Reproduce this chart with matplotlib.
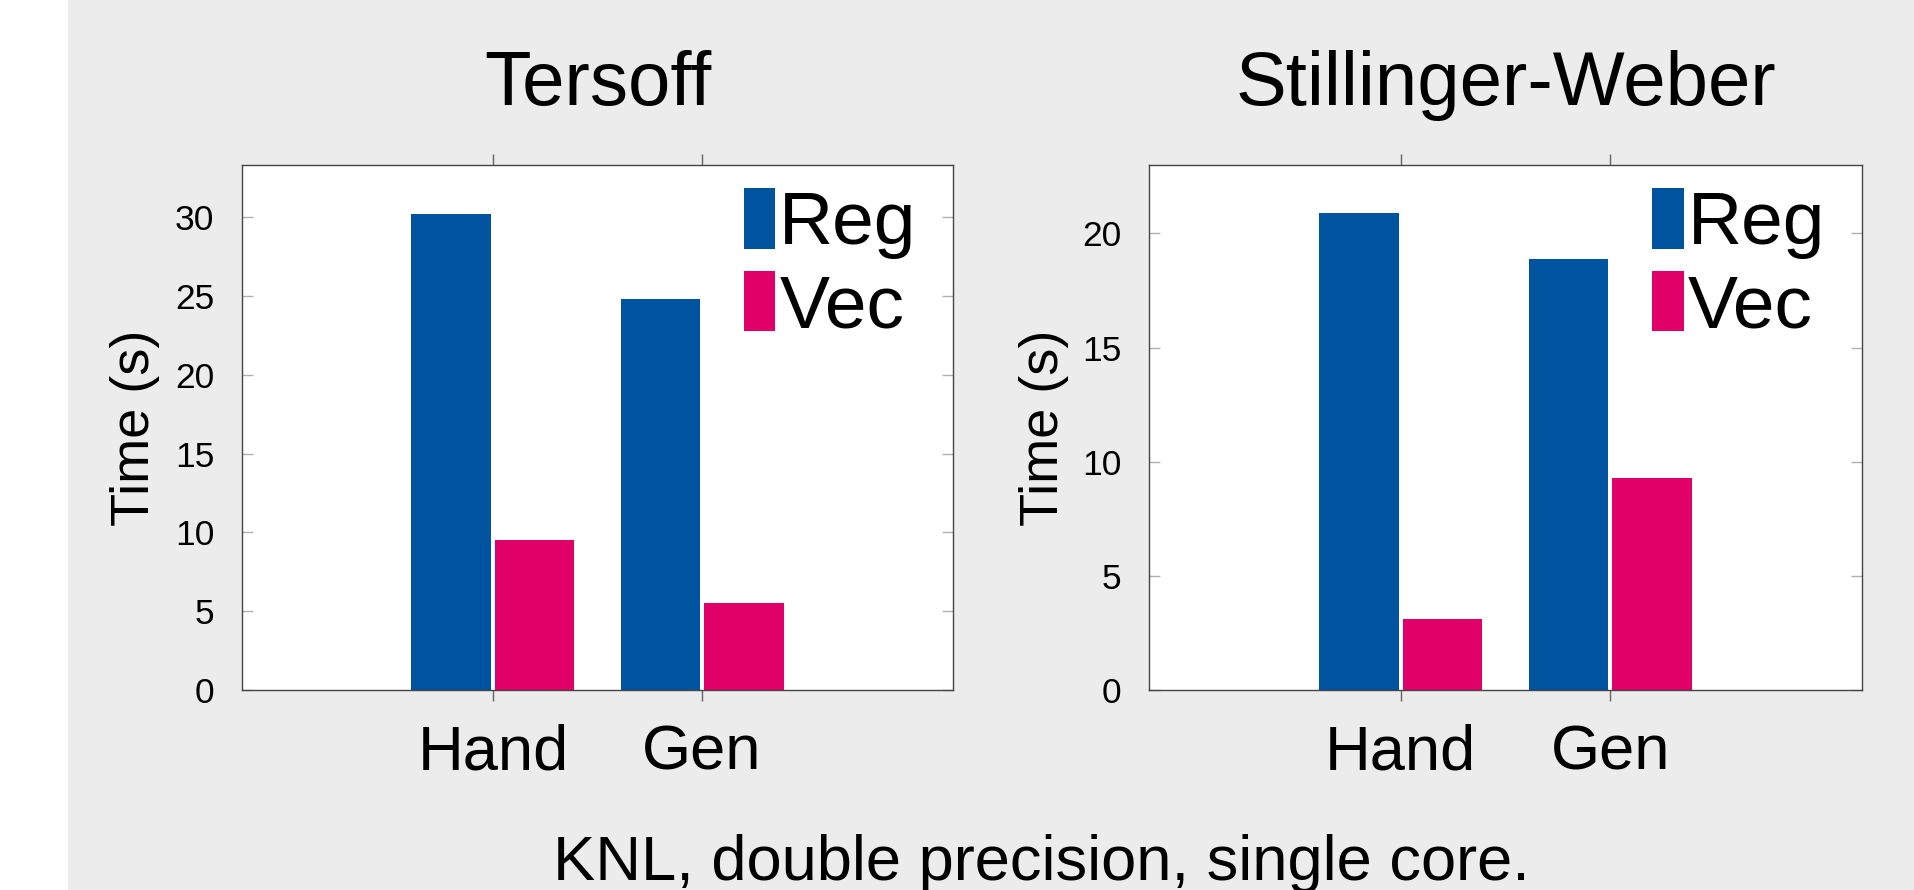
import matplotlib
matplotlib.use('Agg')
import matplotlib.pyplot as plt
import numpy as np
from matplotlib.patches import Rectangle

plt.rcParams['font.family'] = ['Liberation Sans', 'DejaVu Sans']

# ---- data ----
categories = ['Hand', 'Gen']
series_names = ['Reg', 'Vec']
tersoff_reg = [30.2, 24.8]
tersoff_vec = [9.5, 5.5]
sw_reg = [20.9, 18.9]
sw_vec = [3.1, 9.3]
tersoff_yticks = [0, 5, 10, 15, 20, 25, 30]
sw_yticks = [0, 5, 10, 15, 20]
titles = ['Tersoff', 'Stillinger-Weber']
ylabel = 'Time (s)'
caption = 'KNL, double precision, single core.'

# ---- style ----
BLUE = '#00539f'
PINK = '#e10068'
BG = '#ebeceb'
W, H = 1914, 890

fig = plt.figure(figsize=(W / 100, H / 100), dpi=100, facecolor='white')
fig.add_artist(Rectangle((68 / W, 0), 1, 1, transform=fig.transFigure,
                         facecolor=BG, edgecolor='none', zorder=0))

ax1 = fig.add_axes([242 / W, 200 / H, 711 / W, 525 / H])
ax2 = fig.add_axes([1149 / W, 200 / H, 713 / W, 525 / H])

panels = [
    (ax1, titles[0], tersoff_reg, tersoff_vec, tersoff_yticks, 33.3, -0.151),
    (ax2, titles[1], sw_reg, sw_vec, sw_yticks, 23.0, -0.147),
]

x = np.arange(1, len(categories) + 1)
for ax, title, reg, vec, yticks, ytop, lblx in panels:
    ax.set_facecolor('white')
    ax.bar(x - 0.2, reg, 0.38, color=BLUE, label=series_names[0], zorder=2)
    ax.bar(x + 0.2, vec, 0.38, color=PINK, label=series_names[1], zorder=2)
    ax.set_xlim(-0.2, 3.2)
    ax.set_ylim(0, ytop)
    ax.set_xticks(x, categories)
    ax.set_yticks(yticks)
    ax.tick_params(axis='x', direction='out', length=8, width=1.0, color='#666666',
                   top=True, bottom=True, labelsize=45.5, pad=16)
    ax.tick_params(axis='y', direction='in', length=8, width=1.0, color='#b0b0b0',
                   left=True, right=True, labelsize=25.5, pad=20)
    for sp in ax.spines.values():
        sp.set_color('#444444')
        sp.set_linewidth(1.0)
        sp.set_zorder(3)
    ax.set_ylabel(ylabel, fontsize=39)
    ax.yaxis.set_label_coords(lblx, 0.5)
    ax.yaxis.label.set_va('center')
    ax.set_title(title, fontsize=54.8, pad=43)
    ax.legend(loc='upper left', bbox_to_anchor=(0.706, 0.956), frameon=False,
              fontsize=54, handlelength=0.42, handleheight=0.87, handletextpad=0.05,
              labelspacing=0.15, borderpad=0, borderaxespad=0)

fig.text(1041 / W, 10 / H, caption, ha='center', va='baseline', fontsize=45.5)

fig.savefig('out.png', dpi=100, facecolor=fig.get_facecolor())
